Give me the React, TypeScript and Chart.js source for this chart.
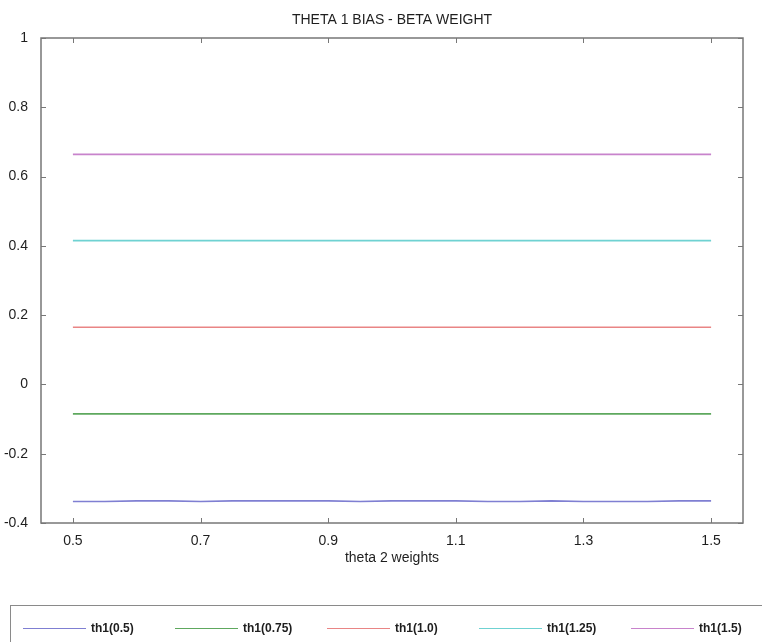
import { useEffect, useRef } from 'react';
import { Chart, registerables } from 'chart.js';

Chart.register(...registerables);

// theta 2 weights sampled along the x axis
const thetaTwoWeights = [
  0.5, 0.55, 0.6, 0.65, 0.7, 0.75, 0.8, 0.85, 0.9, 0.95, 1.0,
  1.05, 1.1, 1.15, 1.2, 1.25, 1.3, 1.35, 1.4, 1.45, 1.5,
];

// beta weight for each theta 1 bias
const th1_05 = [
  -0.338, -0.338, -0.336, -0.336, -0.338, -0.336, -0.336, -0.336, -0.336, -0.338, -0.336,
  -0.336, -0.336, -0.338, -0.338, -0.336, -0.338, -0.338, -0.338, -0.336, -0.336,
];
const th1_075 = [
  -0.085, -0.085, -0.085, -0.085, -0.085, -0.085, -0.085, -0.085, -0.085, -0.085, -0.085,
  -0.085, -0.085, -0.085, -0.085, -0.085, -0.085, -0.085, -0.085, -0.085, -0.085,
];
const th1_10 = [
  0.165, 0.165, 0.165, 0.165, 0.165, 0.165, 0.165, 0.165, 0.165, 0.165, 0.165,
  0.165, 0.165, 0.165, 0.165, 0.165, 0.165, 0.165, 0.165, 0.165, 0.165,
];
const th1_125 = [
  0.415, 0.415, 0.415, 0.415, 0.415, 0.415, 0.415, 0.415, 0.415, 0.415, 0.415,
  0.415, 0.415, 0.415, 0.415, 0.415, 0.415, 0.415, 0.415, 0.415, 0.415,
];
const th1_15 = [
  0.664, 0.664, 0.664, 0.664, 0.664, 0.664, 0.664, 0.664, 0.664, 0.664, 0.664,
  0.664, 0.664, 0.664, 0.664, 0.664, 0.664, 0.664, 0.664, 0.664, 0.664,
];

const seriesValues = [th1_05, th1_075, th1_10, th1_125, th1_15];
const seriesLabels = ['th1(0.5)', 'th1(0.75)', 'th1(1.0)', 'th1(1.25)', 'th1(1.5)'];
const seriesColors = ['#7f7fd2', '#5ea85e', '#e98585', '#6fd2d2', '#c883cc'];

const xTickValues = [0.5, 0.7, 0.9, 1.1, 1.3, 1.5];
const yTickValues = [-0.4, -0.2, 0, 0.2, 0.4, 0.6, 0.8, 1];

const chartTitle = 'THETA 1 BIAS - BETA WEIGHT';
const xAxisTitle = 'theta 2 weights';

const FONT = '"Liberation Sans", Arial, Helvetica, sans-serif';
const AXIS_COLOR = '#777777';
const TEXT_COLOR = '#1e1e1e';

// Boxed axes with inward ticks, title, axis label and a boxed horizontal legend
const framePlugin = {
  id: 'matlabFrame',
  afterDraw(chart: any) {
    const { ctx, chartArea } = chart;
    const { left, right, top, bottom } = chartArea;
    const xs = chart.scales.x;
    const ys = chart.scales.y;
    const tick = 5;

    ctx.save();
    ctx.strokeStyle = AXIS_COLOR;
    ctx.lineWidth = 1.5;
    ctx.strokeRect(left, top, right - left, bottom - top);

    ctx.beginPath();
    xTickValues.forEach((v) => {
      const px = Math.round(xs.getPixelForValue(v)) + 0.5;
      ctx.moveTo(px, bottom);
      ctx.lineTo(px, bottom - tick);
      ctx.moveTo(px, top);
      ctx.lineTo(px, top + tick);
    });
    yTickValues.forEach((v) => {
      const py = Math.round(ys.getPixelForValue(v)) + 0.5;
      ctx.moveTo(left, py);
      ctx.lineTo(left + tick, py);
      ctx.moveTo(right, py);
      ctx.lineTo(right - tick, py);
    });
    ctx.lineWidth = 1;
    ctx.stroke();

    // title and x axis label
    const cx = (left + right) / 2;
    ctx.fillStyle = TEXT_COLOR;
    ctx.textAlign = 'center';
    ctx.textBaseline = 'middle';
    ctx.font = `14px ${FONT}`;
    ctx.fillText(chartTitle, cx, 20);
    ctx.fillText(xAxisTitle, cx, 558);

    // legend box
    ctx.strokeStyle = '#8a8a8a';
    ctx.lineWidth = 1;
    ctx.strokeRect(10.5, 605.5, 800, 80);

    ctx.font = `bold 12px ${FONT}`;
    ctx.textAlign = 'left';
    chart.data.datasets.forEach((ds: any, i: number) => {
      const x0 = 23 + i * 152;
      const y0 = 628.5;
      ctx.strokeStyle = ds.borderColor;
      ctx.lineWidth = 1.2;
      ctx.beginPath();
      ctx.moveTo(x0, y0);
      ctx.lineTo(x0 + 63, y0);
      ctx.stroke();
      ctx.fillStyle = TEXT_COLOR;
      ctx.fillText(ds.label, x0 + 68, y0);
    });
    ctx.restore();
  },
};

export default function App() {
  const canvasRef = useRef<HTMLCanvasElement | null>(null);

  useEffect(() => {
    const canvas = canvasRef.current;
    if (!canvas) return;

    const datasets = seriesValues.map((vals, i) => ({
      label: seriesLabels[i],
      data: thetaTwoWeights.map((x, j) => ({ x, y: vals[j] })),
      borderColor: seriesColors[i],
      backgroundColor: seriesColors[i],
      borderWidth: 1.6,
      pointRadius: 0,
      tension: 0,
      fill: false,
    }));

    const chart = new Chart(canvas, {
      type: 'line',
      data: { datasets },
      options: {
        animation: false,
        responsive: false,
        devicePixelRatio: 1,
        layout: { padding: { top: 38, right: 19, bottom: 89, left: 0 } },
        plugins: {
          legend: { display: false },
          title: { display: false },
          tooltip: { enabled: false },
        },
        scales: {
          x: {
            type: 'linear',
            min: 0.45,
            max: 1.55,
            grid: { display: false },
            border: { display: false },
            afterBuildTicks: (scale: any) => {
              scale.ticks = xTickValues.map((value) => ({ value }));
            },
            afterFit: (scale: any) => {
              scale.height = 30;
            },
            ticks: {
              autoSkip: false,
              maxRotation: 0,
              padding: 2,
              color: TEXT_COLOR,
              font: { family: FONT, size: 14 },
              callback: (v: any) => Number(v).toFixed(1),
            },
          },
          y: {
            type: 'linear',
            min: -0.4,
            max: 1,
            grid: { display: false },
            border: { display: false },
            afterBuildTicks: (scale: any) => {
              scale.ticks = yTickValues.map((value) => ({ value }));
            },
            afterFit: (scale: any) => {
              scale.width = 41;
            },
            ticks: {
              autoSkip: false,
              padding: 5,
              color: TEXT_COLOR,
              font: { family: FONT, size: 14 },
              callback: (v: any) => String(Number(Number(v).toFixed(1))),
            },
          },
        },
      },
      plugins: [framePlugin],
    });

    return () => chart.destroy();
  }, []);

  return (
    <div style={{ position: 'absolute', left: 0, top: 0, width: 762, height: 642, background: '#ffffff' }}>
      <canvas ref={canvasRef} width={762} height={642} style={{ display: 'block', width: 762, height: 642 }} />
    </div>
  );
}
